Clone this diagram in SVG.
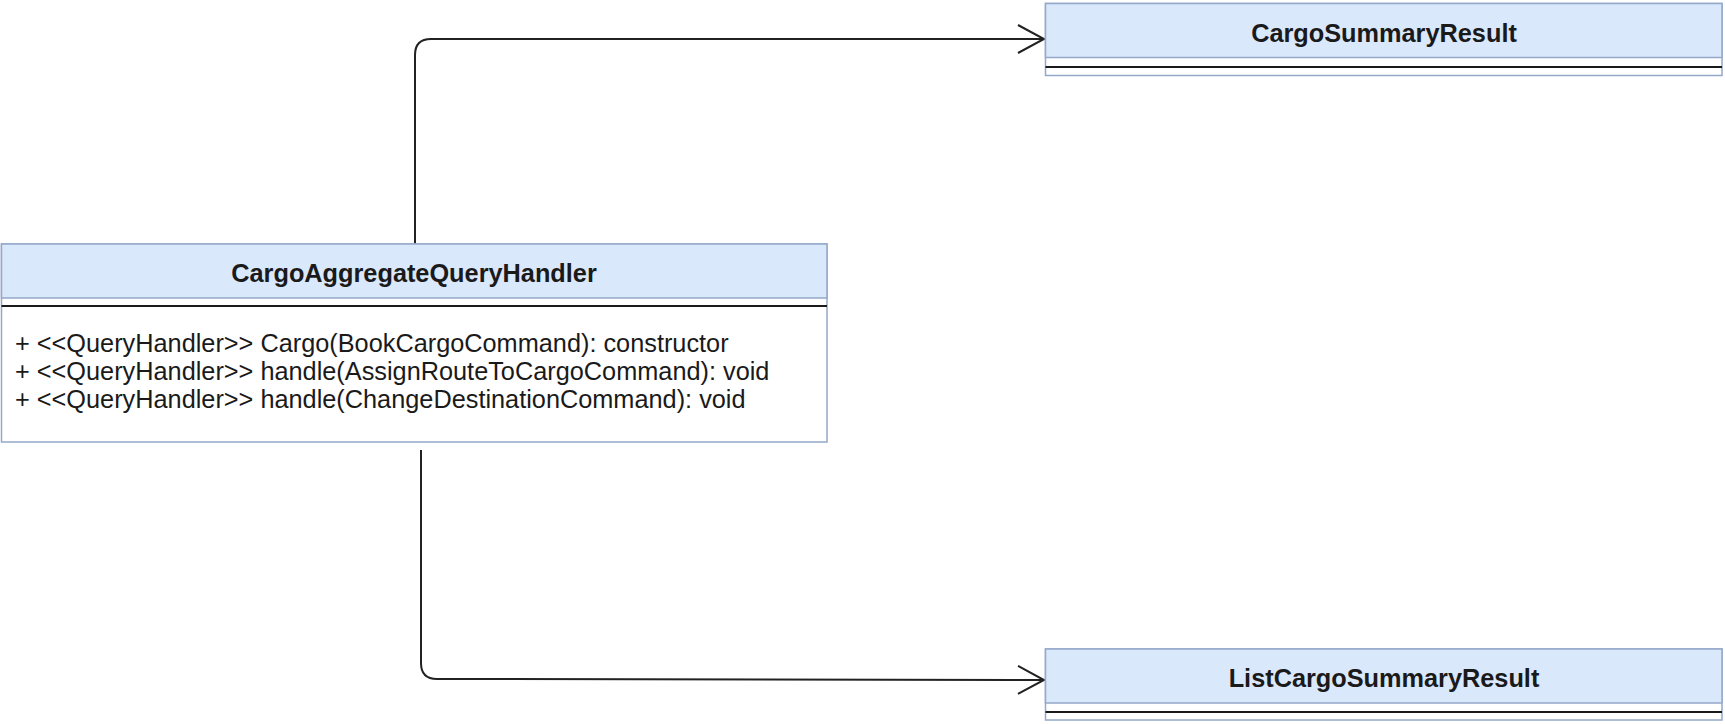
<svg xmlns="http://www.w3.org/2000/svg" width="1725" height="724" viewBox="0 0 1725 724">
<style>
.box{fill:#ffffff;stroke:#94a8c9;stroke-width:1.5}
.hdr{fill:#dae8fc;stroke:#94a8c9;stroke-width:1.5}
.div{stroke:#1a1a1a;stroke-width:2}
.title{font-family:"Liberation Sans",Arial,Helvetica,sans-serif;font-size:25.3px;font-weight:bold;fill:#1a1a1a;text-anchor:middle}
.body{font-family:"Liberation Sans",Arial,Helvetica,sans-serif;font-size:25.3px;fill:#1a1a1a}
.conn{fill:none;stroke:#222222;stroke-width:2}
</style>
<defs>
<marker id="open" markerUnits="userSpaceOnUse" markerWidth="40" markerHeight="40" refX="0" refY="0" viewBox="-30 -20 40 40" orient="auto" overflow="visible">
<path d="M -26 -14 L 0 0 L -26 14" fill="none" stroke="#222222" stroke-width="2"/>
</marker>
</defs>
<g id="connectors">
<path class="conn" d="M 415 244 V 55 Q 415 39 431 39 H 1044" marker-end="url(#open)"/>
<path class="conn" d="M 421 450 V 663 Q 421 679 437 679 L 1044 680" marker-end="url(#open)"/>
</g>
<g id="CargoAggregateQueryHandler">
<rect class="box" x="1.5" y="244" width="825.5" height="198"/>
<rect class="hdr" x="1.5" y="244" width="825.5" height="54"/>
<line class="div" x1="1.5" y1="306" x2="827" y2="306"/>
<text class="title" x="414" y="282">CargoAggregateQueryHandler</text>
<text class="body" x="15" y="352">+ &lt;&lt;QueryHandler&gt;&gt; Cargo(BookCargoCommand): constructor</text>
<text class="body" x="15" y="380">+ &lt;&lt;QueryHandler&gt;&gt; handle(AssignRouteToCargoCommand): void</text>
<text class="body" x="15" y="408">+ &lt;&lt;QueryHandler&gt;&gt; handle(ChangeDestinationCommand): void</text>
</g>
<g id="CargoSummaryResult">
<rect class="box" x="1045.5" y="3.5" width="676.5" height="72"/>
<rect class="hdr" x="1045.5" y="3.5" width="676.5" height="54"/>
<line class="div" x1="1045.5" y1="67" x2="1722" y2="67"/>
<text class="title" x="1384" y="42">CargoSummaryResult</text>
</g>
<g id="ListCargoSummaryResult">
<rect class="box" x="1045.5" y="649" width="676.5" height="71"/>
<rect class="hdr" x="1045.5" y="649" width="676.5" height="54"/>
<line class="div" x1="1045.5" y1="712" x2="1722" y2="712"/>
<text class="title" x="1384" y="687">ListCargoSummaryResult</text>
</g>
</svg>
